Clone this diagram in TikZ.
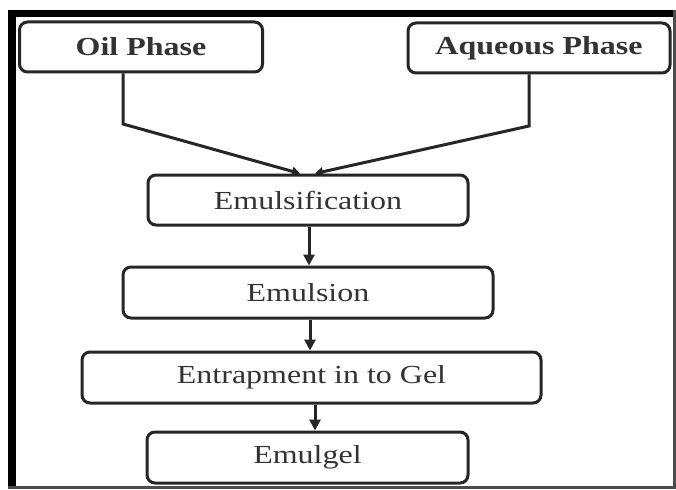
\documentclass[tikz,border=0pt]{standalone}
\usepackage{fontspec}
\setmainfont{Liberation Serif}
\usetikzlibrary{arrows.meta}
\tikzset{
  box/.style={draw=black!85, line width=3pt, rounded corners=8pt, inner sep=0pt, fill=white},
  conn/.style={draw=black!85, line width=3pt},
  arr/.style={conn, -{Triangle[length=11pt,width=11pt]}},
  arrs/.style={conn, -{Triangle[length=8pt,width=9pt]}},
  lbl/.style={font=\fontsize{26pt}{28pt}\selectfont, text=black!80},
}
\newcommand{\stx}[1]{\scalebox{1.23}[1]{#1}}
\begin{document}
\begin{tikzpicture}[x=1pt,y=-1pt]
\useasboundingbox (0,0) rectangle (676,489);
\fill[white] (0,0) rectangle (676,489);
% frame
\fill[black] (8,10) rectangle (676,17);
\fill[black] (8,10) rectangle (16,489);
\fill[black!70] (673,10) rectangle (676,489);
\fill[black!70] (8,486) rectangle (676,489);
% boxes
\node[box, minimum width=243pt, minimum height=50pt, lbl] (oil) at (141,47) {\stx{\textbf{Oil Phase}}};
\node[box, minimum width=262pt, minimum height=50pt, lbl] (aq) at (539,48) {\stx{\textbf{Aqueous Phase}}};
\node[box, minimum width=320pt, minimum height=50pt, lbl] (emf) at (308,200) {\stx{Emulsification}};
\node[box, minimum width=370pt, minimum height=51pt, lbl] (ems) at (308,292.5) {\stx{Emulsion}};
\node[box, minimum width=459pt, minimum height=51pt, lbl] (ent) at (311.5,377.5) {\stx{Entrapment in to Gel}};
\node[box, minimum width=321pt, minimum height=51pt, lbl] (emg) at (307.5,457.5) {\stx{Emulgel}};
% connectors
\coordinate (oilb) at (123,124);
\coordinate (aqb) at (529,126);
\draw[arrs] (oil.south -| oilb) -- (oilb) -- (emf.north -| 300,0);
\draw[arrs] (aq.south -| aqb) -- (aqb) -- (emf.north -| 315,0);
\draw[arr] (emf.south -| 309,0) -- (ems.north -| 309,0);
\draw[arr] (ems.south -| 310,0) -- (ent.north -| 310,0);
\draw[arr] (ent.south -| 315,0) -- (emg.north -| 315,0);
\end{tikzpicture}
\end{document}
